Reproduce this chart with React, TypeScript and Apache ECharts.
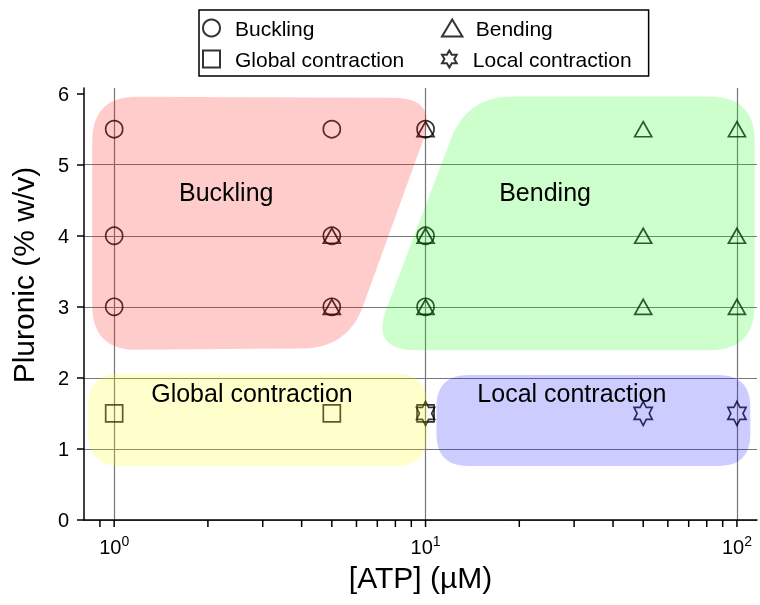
import React, { useEffect, useRef } from 'react';
import * as echarts from 'echarts';

const FONT = '"Liberation Sans", Arial, Helvetica, sans-serif';

// ---- data ----
const seriesNames = ['Buckling', 'Bending', 'Global contraction', 'Local contraction'];
const bucklingPoints = [[1, 5.5], [1, 4], [1, 3], [5, 5.5], [5, 4], [5, 3], [10, 5.5], [10, 4], [10, 3]];
const bendingPoints = [[5, 4], [5, 3], [10, 5.5], [10, 4], [10, 3], [50, 5.5], [50, 4], [50, 3], [100, 5.5], [100, 4], [100, 3]];
const globalPoints = [[1, 1.5], [5, 1.5], [10, 1.5]];
const localPoints = [[10, 1.5], [50, 1.5], [100, 1.5]];

const regionLabels = ['Buckling', 'Bending', 'Global contraction', 'Local contraction'];
const regionLabelPos = [[2.29, 4.62], [24.2, 4.62], [2.77, 1.79], [29.5, 1.79]];
const regionCorners = [
  [[0.85, 5.96], [11.0, 5.94], [5.63, 2.42], [0.85, 2.39]],
  [[13.6, 5.96], [114, 5.96], [114, 2.39], [6.66, 2.39]],
  [[0.826, 2.06], [10.15, 2.06], [10.15, 0.76], [0.826, 0.76]],
  [[10.84, 2.04], [110.4, 2.04], [110.4, 0.76], [10.84, 0.76]],
];
const regionColors = ['rgba(255,0,0,0.2)', 'rgba(0,255,0,0.2)', 'rgba(255,255,0,0.2)', 'rgba(0,0,255,0.2)'];

const xMajorTicks = [1, 10, 100];
const xMinorTicks = [0.9, 2, 3, 4, 5, 6, 7, 8, 9, 20, 30, 40, 50, 60, 70, 80, 90];
const yTicks = [0, 1, 2, 3, 4, 5, 6];

// ---- helpers ----
function hexagramPath() {
  const R = 100;
  const r = R / Math.sqrt(3);
  let d = '';
  for (let k = 0; k < 12; k++) {
    const a = ((-90 + k * 30) * Math.PI) / 180;
    const rad = k % 2 === 0 ? R : r;
    const x = 100 + rad * Math.cos(a);
    const y = 100 + rad * Math.sin(a);
    d += (k === 0 ? 'M' : 'L') + x.toFixed(2) + ' ' + y.toFixed(2) + ' ';
  }
  return 'path://' + d + 'Z';
}

function roundedPoly(pts: number[][], d: number, n = 14) {
  const out: number[][] = [];
  const N = pts.length;
  for (let i = 0; i < N; i++) {
    const P = pts[i];
    const A0 = pts[(i - 1 + N) % N];
    const B0 = pts[(i + 1) % N];
    const la = Math.hypot(A0[0] - P[0], A0[1] - P[1]);
    const lb = Math.hypot(B0[0] - P[0], B0[1] - P[1]);
    const da = Math.min(d, la / 2);
    const db = Math.min(d, lb / 2);
    const A = [P[0] + ((A0[0] - P[0]) * da) / la, P[1] + ((A0[1] - P[1]) * da) / la];
    const B = [P[0] + ((B0[0] - P[0]) * db) / lb, P[1] + ((B0[1] - P[1]) * db) / lb];
    for (let j = 0; j <= n; j++) {
      const t = j / n;
      const u = 1 - t;
      out.push([
        u * u * A[0] + 2 * u * t * P[0] + t * t * B[0],
        u * u * A[1] + 2 * u * t * P[1] + t * t * B[1],
      ]);
    }
  }
  return out;
}

const regionRadius = [45, 45, 32, 32];

export default function App() {
  const ref = useRef<HTMLDivElement>(null);
  useEffect(() => {
    if (!ref.current) return;
    const chart = echarts.init(ref.current, undefined, { renderer: 'svg' });
    const hollow = { color: 'rgba(0,0,0,0)', borderColor: '#000', borderWidth: 1.7 };
    const starSymbol = hexagramPath();
    const squareIcon = 'path://M0 0L10 0L10 10L0 10Z';
    const triangleIcon = 'path://M6 0L12 10L0 10Z';
    const option: any = {
      animation: false,
      textStyle: { fontFamily: FONT },
      grid: { left: 83, right: 2, top: 88, bottom: 85 },
      legend: {
        left: 199,
        top: 10,
        width: 480,
        orient: 'horizontal',
        padding: [7, 17, 6, 3],
        borderColor: '#000',
        borderWidth: 1.5,
        itemWidth: 37,
        itemHeight: 17,
        itemGap: 9,
        symbolKeepAspect: true,
        selectedMode: false,
        textStyle: { fontSize: 21, color: '#000', fontFamily: FONT, lineHeight: 22 },
        data: [
          { name: seriesNames[0], textStyle: { width: 197 } },
          { name: seriesNames[1], icon: triangleIcon },
          { name: seriesNames[2], icon: squareIcon, textStyle: { width: 197 } },
          { name: seriesNames[3] },
        ],
      },
      xAxis: {
        type: 'log',
        logBase: 10,
        min: 0.8,
        max: 116,
        axisLine: { show: true, onZero: false, lineStyle: { color: '#000', width: 1.5 } },
        axisTick: { show: false },
        axisLabel: {
          margin: 14,
          formatter: (v: number) => {
            const l = Math.log10(v);
            const e = Math.round(l);
            if (Math.abs(l - e) > 1e-6) return '';
            return '{b|10}{s|' + e + '}';
          },
          rich: {
            b: { fontSize: 20, color: '#000', fontFamily: FONT, lineHeight: 26 },
            s: { fontSize: 14, color: '#000', fontFamily: FONT, verticalAlign: 'top', lineHeight: 14 },
          },
        },
        splitLine: { show: true, showMinLine: false, showMaxLine: false, lineStyle: { color: '#777', width: 1.2 } },
        name: '[ATP] (µM)',
        nameLocation: 'middle',
        nameGap: 42,
        nameTextStyle: { fontSize: 30, color: '#000', fontFamily: FONT },
      },
      yAxis: {
        type: 'value',
        min: 0,
        max: 6.08,
        interval: 1,
        axisLine: { show: true, lineStyle: { color: '#000', width: 1.5 } },
        axisTick: { show: true, length: 7, customValues: yTicks, lineStyle: { color: '#000', width: 1.5 } },
        axisLabel: {
          customValues: yTicks,
          fontSize: 20,
          color: '#000',
          margin: 15,
          fontFamily: FONT,
          formatter: (v: number) => (Math.abs(v - Math.round(v)) < 1e-6 ? String(Math.round(v)) : ''),
        },
        splitLine: { show: true, showMaxLine: false, lineStyle: { color: '#777', width: 1.2 } },
        name: 'Pluronic (% w/v)',
        nameLocation: 'middle',
        nameGap: 46,
        nameTextStyle: { fontSize: 30, color: '#000', fontFamily: FONT, padding: [0, 0, 0, 58] },
      },
      series: [
        {
          name: seriesNames[0], type: 'scatter', data: bucklingPoints, symbol: 'circle', symbolSize: 17,
          itemStyle: hollow, z: 2, silent: true,
        },
        {
          name: seriesNames[1], type: 'scatter', data: bendingPoints, symbol: 'triangle', symbolSize: [17, 15],
          itemStyle: hollow, z: 2, silent: true,
        },
        {
          name: seriesNames[2], type: 'scatter', data: globalPoints, symbol: 'rect', symbolSize: 17,
          itemStyle: hollow, z: 2, silent: true,
        },
        {
          name: seriesNames[3], type: 'scatter', data: localPoints, symbol: starSymbol, symbolKeepAspect: true,
          symbolSize: [21, 24], itemStyle: hollow, z: 2, silent: true,
        },
        {
          name: 'regions', type: 'custom', z: 3, silent: true, data: regionLabelPos,
          renderItem: (params: any, api: any) => {
            const i = params.dataIndex;
            const pts = regionCorners[i].map((c) => api.coord(c));
            return {
              type: 'polygon',
              shape: { points: roundedPoly(pts, regionRadius[i]) },
              style: { fill: regionColors[i], stroke: 'none' },
            };
          },
        },
        {
          name: 'regionLabels', type: 'custom', z: 4, silent: true, data: regionLabelPos,
          renderItem: (params: any, api: any) => {
            const i = params.dataIndex;
            const p = api.coord(regionLabelPos[i]);
            return {
              type: 'text',
              x: p[0],
              y: p[1],
              style: {
                text: regionLabels[i], fill: '#000', fontSize: 25, fontFamily: FONT,
                align: 'center', verticalAlign: 'middle',
              },
            };
          },
        },
        {
          name: 'xTicks', type: 'custom', z: 5, silent: true, clip: false,
          data: [...xMajorTicks, ...xMinorTicks].map((v) => [v, 0]),
          renderItem: (params: any, api: any) => {
            const p = api.coord([api.value(0), 0]);
            return {
              type: 'line',
              shape: { x1: p[0], y1: p[1], x2: p[0], y2: p[1] + 7 },
              style: { stroke: '#000', lineWidth: 1.5 },
            };
          },
        },
      ],
    };
    chart.setOption(option);
    return () => chart.dispose();
  }, []);
  return <div ref={ref} style={{ position: 'fixed', left: 0, top: 0, width: 760, height: 605 }} />;
}
